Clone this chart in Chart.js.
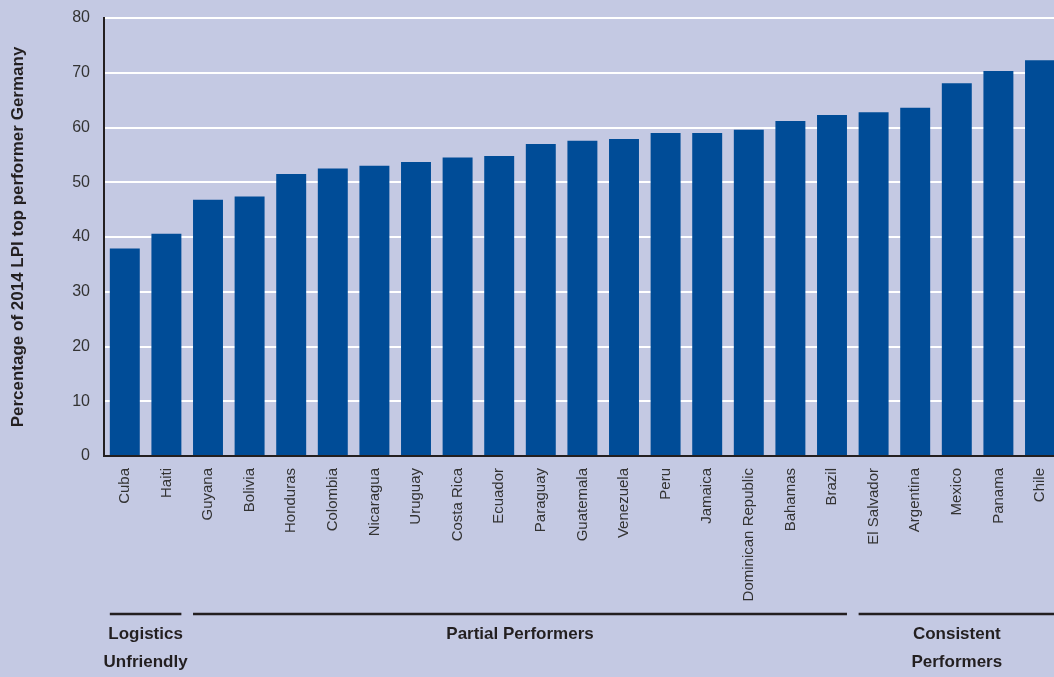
<!DOCTYPE html>
<html lang="en">
  <head>
    <meta charset="UTF-8" />
    <title>LPI Latin America</title>
    <script src="https://cdn.jsdelivr.net/npm/chart.js@4.4.1/dist/chart.umd.min.js"></script>
    <style>
      html,
      body {
        margin: 0;
        padding: 0;
        overflow: hidden;
        background-color: #c4c9e3;
        width: 1054px;
        height: 677px;
      }
      #myChart {
        display: block;
        margin-top: -4px;
      }
    </style>
  </head>
  <body>
    <canvas id="myChart" width="1062" height="681"></canvas>
    <script>
      const countries = [
        "Cuba", "Haiti", "Guyana", "Bolivia", "Honduras", "Colombia",
        "Nicaragua", "Uruguay", "Costa Rica", "Ecuador", "Paraguay",
        "Guatemala", "Venezuela", "Peru", "Jamaica", "Dominican Republic",
        "Bahamas", "Brazil", "El Salvador", "Argentina", "Mexico", "Panama", "Chile",
      ];
      const scores = [
        37.9, 40.6, 46.8, 47.4, 51.5, 52.5, 53.0, 53.7, 54.5, 54.8, 57.0,
        57.6, 57.9, 59.0, 59.0, 59.6, 61.2, 62.3, 62.8, 63.6, 68.1, 70.3, 72.3,
      ];
      const yTicks = [0, 10, 20, 30, 40, 50, 60, 70, 80];

      // performer groups, as first/last country index
      const groupNames = [["Logistics", "Unfriendly"], ["Partial Performers"], ["Consistent", "Performers"]];
      const groupFirst = [0, 2, 18];
      const groupLast = [1, 17, 22];

      const FONT = "'Liberation Sans', Arial, sans-serif";
      const DARK = "#231f20";

      const groupPlugin = {
        id: "groups",
        afterDraw(chart) {
          const x = chart.scales.x;
          const c = chart.ctx;
          const step = x.getPixelForValue(1) - x.getPixelForValue(0);
          const bw = step * 0.72 / 2;
          // canvas is shifted up 4px
          const lineY = 618;
          c.save();
          c.strokeStyle = DARK;
          c.lineWidth = 2.5;
          c.fillStyle = DARK;
          c.font = "bold 17px " + FONT;
          c.textAlign = "center";
          c.textBaseline = "middle";
          groupNames.forEach((lines, i) => {
            const x0 = x.getPixelForValue(groupFirst[i]) - bw;
            const x1 = x.getPixelForValue(groupLast[i]) + bw;
            c.beginPath();
            c.moveTo(x0, lineY);
            c.lineTo(x1, lineY);
            c.stroke();
            const mid = (x0 + x1) / 2;
            lines.forEach((t, j) => {
              c.fillText(t, mid, lineY + 20 + j * 28);
            });
          });
          c.restore();
        },
      };

      const ctx = document.getElementById("myChart").getContext("2d");
      const myChart = new Chart(ctx, {
        type: "bar",
        data: {
          labels: countries,
          datasets: [
            {
              data: scores,
              backgroundColor: "#004c97",
              borderWidth: 0,
              barPercentage: 0.72,
              categoryPercentage: 1,
            },
          ],
        },
        options: {
          responsive: false,
          animation: false,
          layout: { padding: 0 },
          plugins: {
            legend: { display: false },
            tooltip: { enabled: false },
          },
          scales: {
            x: {
              grid: { display: false },
              border: { color: DARK, width: 2 },
              ticks: {
                minRotation: 90,
                maxRotation: 90,
                autoSkip: false,
                padding: 4,
                color: "#333",
                font: { family: FONT, size: 15 },
              },
              afterFit: (scale) => {
                scale.height = 221;
              },
            },
            y: {
              min: 0,
              max: 80,
              afterBuildTicks: (scale) => {
                scale.ticks = yTicks.map((v) => ({ value: v }));
              },
              grid: { color: "#ffffff", lineWidth: 2, drawTicks: false },
              border: { color: DARK, width: 2 },
              ticks: {
                padding: 14,
                color: "#333",
                font: { family: FONT, size: 16, lineHeight: 1 },
              },
              title: {
                display: true,
                text: "Percentage of 2014 LPI top performer Germany",
                color: DARK,
                font: { family: FONT, size: 17, weight: "bold" },
                padding: { top: 8, bottom: 0 },
              },
              afterFit: (scale) => {
                scale.width = 104;
              },
            },
          },
        },
        plugins: [groupPlugin],
      });
    </script>
  </body>
</html>
